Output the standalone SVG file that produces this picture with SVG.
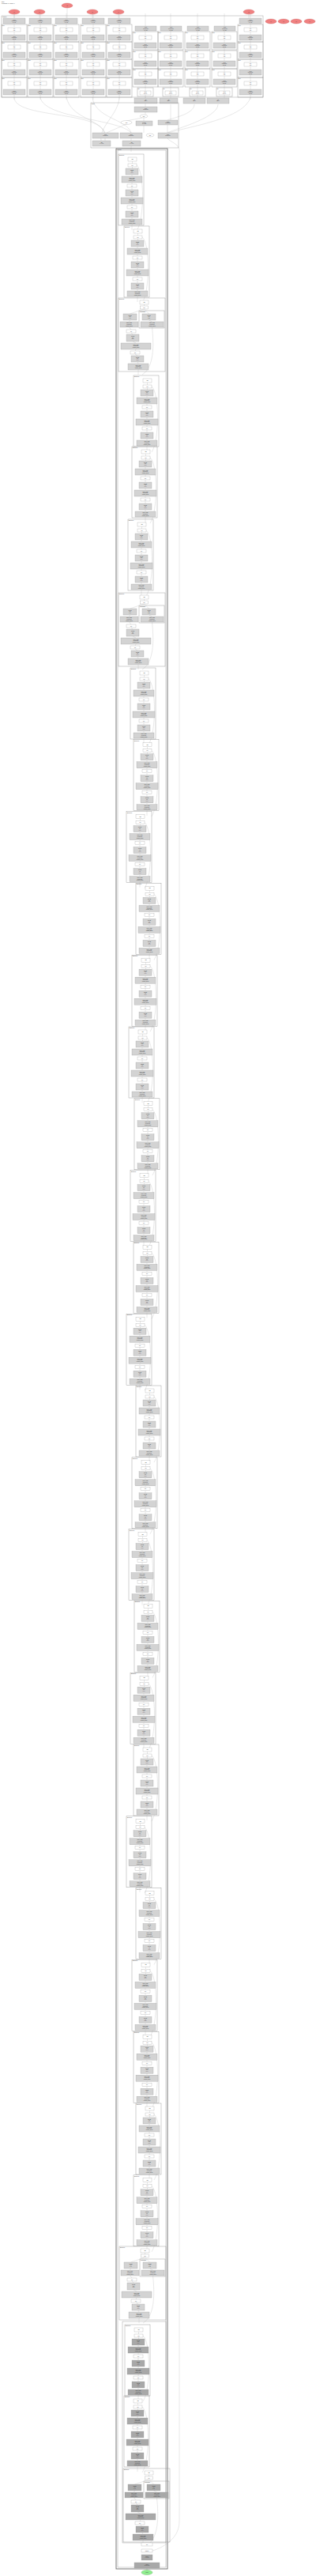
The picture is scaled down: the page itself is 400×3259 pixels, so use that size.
<svg xmlns="http://www.w3.org/2000/svg" xmlns:xlink="http://www.w3.org/1999/xlink" width="400" height="3259" viewBox="0 0 400 3259">
<style>
.cl{fill:none;stroke:#8a8a8a;stroke-width:0.4}
.cL{fill:none;stroke:#6a6a6a;stroke-width:0.9}
.w{fill:#fff;stroke:#9a9a9a;stroke-width:0.3}
.g{fill:var(--g,#d3d3d3);stroke:#9a9a9a;stroke-width:0.3}
.e{fill:none;stroke:#b0b0b0;stroke-width:0.3}
.t{font-family:"Liberation Sans",sans-serif;font-size:1.3px;fill:#333;text-anchor:middle}
.tl{font-family:"Liberation Sans",sans-serif;font-size:1.3px;fill:#333}
.in{fill:#f08080;stroke:#c05050;stroke-width:0.3}
.out{fill:#90ee90;stroke:#50a050;stroke-width:0.3}
</style>
<defs>
<g id="b">
<rect class="cl" width="32" height="90"/>
<text class="tl" x="1" y="2">Bottleneck</text>
<path class="e" d="M17.5,9V12M17.5,16V18M17,26V28M17,36V38M17,42V45M17,53V55M17,63V65M17,69V72M17,80V82M17,89V96"/>
<path class="e" d="M23,14C33,22 33,82 23,97"/>
<rect class="w" x="12" y="4" width="11" height="5"/><text class="t" x="17.5" y="7">add</text>
<rect class="w" x="12" y="12" width="11" height="4"/><text class="t" x="17.5" y="14.5">relu</text>
<rect class="g" x="9" y="18" width="16" height="8"/><text class="t" x="17" y="20.5">conv2d</text><text class="t" x="17" y="22.3">3x3</text><text class="t" x="17" y="24.1">(1, 1)</text>
<rect class="g" x="4" y="28" width="26" height="8"/><text class="t" x="17" y="30.5">batch_norm</text><text class="t" x="17" y="32.3">weight bias</text><text class="t" x="17" y="34.1">running_mean</text>
<rect class="w" x="11" y="38" width="12" height="4"/><text class="t" x="17" y="40.5">relu</text>
<rect class="g" x="9" y="45" width="16" height="8"/><text class="t" x="17" y="47.5">conv2d</text><text class="t" x="17" y="49.3">3x3</text><text class="t" x="17" y="51.1">(1, 1)</text>
<rect class="g" x="3" y="55" width="28" height="8"/><text class="t" x="17" y="57.5">batch_norm</text><text class="t" x="17" y="59.3">weight bias</text><text class="t" x="17" y="61.1">running_mean</text>
<rect class="w" x="11" y="65" width="12" height="4"/><text class="t" x="17" y="67.5">relu</text>
<rect class="g" x="9" y="72" width="16" height="8"/><text class="t" x="17" y="74.5">conv2d</text><text class="t" x="17" y="76.3">1x1</text><text class="t" x="17" y="78.1">(1, 1)</text>
<rect class="g" x="4" y="82" width="26" height="7"/><text class="t" x="17" y="84.3">batch_norm</text><text class="t" x="17" y="86.1">weight bias</text><text class="t" x="17" y="87.9">running_mean</text>
</g>
<g id="d">
<rect class="cl" width="59" height="93"/>
<text class="tl" x="1" y="2">Bottleneck</text>
<rect class="cl" x="26" y="16" width="32" height="22"/>
<text class="tl" x="27" y="18">downsample</text>
<path class="e" d="M32.5,8V10M32.5,14L14.5,20M32.5,14L38.5,20M14.5,28L13.5,30M38.5,28L42.5,30M13.5,37L16,40M16,44L18,46M18,55L22,57M22,65L21,67M21,71L24,73M24,81L25,83M25,91V97"/>
<path class="e" d="M42.5,37C45,60 45,88 30,97"/>
<rect class="w" x="27" y="3" width="11" height="5"/><text class="t" x="32.5" y="6">add</text>
<rect class="w" x="27.5" y="10" width="10" height="4"/><text class="t" x="32.5" y="12.5">relu</text>
<rect class="g" x="6" y="20" width="17" height="8"/><text class="t" x="14.5" y="22.5">conv2d</text><text class="t" x="14.5" y="24.3">1x1</text><text class="t" x="14.5" y="26.1">(1, 1)</text>
<rect class="g" x="30" y="20" width="17" height="8"/><text class="t" x="38.5" y="22.5">conv2d</text><text class="t" x="38.5" y="24.3">1x1</text><text class="t" x="38.5" y="26.1">(2, 2)</text>
<rect class="g" x="2" y="30" width="23" height="7"/><text class="t" x="13.5" y="32.3">batch_norm</text><text class="t" x="13.5" y="34.1">weight bias</text><text class="t" x="13.5" y="35.9">running_mean</text>
<rect class="g" x="28" y="30" width="29" height="7"/><text class="t" x="42.5" y="32.3">batch_norm</text><text class="t" x="42.5" y="34.1">weight bias</text><text class="t" x="42.5" y="35.9">running_mean</text>
<rect class="w" x="10" y="40" width="12" height="4"/><text class="t" x="16" y="42.5">relu</text>
<rect class="g" x="10" y="46" width="16" height="9"/><text class="t" x="18" y="48.7">conv2d</text><text class="t" x="18" y="50.5">3x3</text><text class="t" x="18" y="52.3">(2, 2)</text>
<rect class="g" x="3" y="57" width="38" height="8"/><text class="t" x="22" y="59.5">batch_norm</text><text class="t" x="22" y="61.3">weight bias</text><text class="t" x="22" y="63.1">running_mean</text>
<rect class="w" x="15" y="67" width="12" height="4"/><text class="t" x="21" y="69.5">relu</text>
<rect class="g" x="16" y="73" width="16" height="8"/><text class="t" x="24" y="75.5">conv2d</text><text class="t" x="24" y="77.3">1x1</text><text class="t" x="24" y="79.1">(1, 1)</text>
<rect class="g" x="12" y="83" width="26" height="8"/><text class="t" x="25" y="85.5">batch_norm</text><text class="t" x="25" y="87.3">weight bias</text><text class="t" x="25" y="89.1">running_mean</text>
</g>
<g id="c">
<path class="e" d="M16,-3V106"/>
<rect class="g" x="2" y="3" width="28" height="7"/><text class="t" x="16" y="5.5">linear</text><text class="t" x="16" y="7.2">weight bias</text><text class="t" x="16" y="8.9">(64, 32)</text>
<rect class="cl" x="0" y="11" width="32" height="22"/><text class="tl" x="0.5" y="12.8">block</text>
<rect class="w" x="8" y="15" width="16" height="5"/><text class="t" x="16" y="17.3">relu</text><text class="t" x="16" y="19">(32)</text>
<rect class="g" x="2" y="24" width="28" height="7"/><text class="t" x="16" y="26.5">linear</text><text class="t" x="16" y="28.2">weight bias</text><text class="t" x="16" y="29.9">(32, 32)</text>
<rect class="cl" x="0" y="33" width="32" height="22"/><text class="tl" x="0.5" y="34.8">block</text>
<rect class="w" x="8" y="37" width="16" height="5"/><text class="t" x="16" y="39.3">relu</text><text class="t" x="16" y="41">(32)</text>
<rect class="g" x="2" y="46" width="28" height="7"/><text class="t" x="16" y="48.5">linear</text><text class="t" x="16" y="50.2">weight bias</text><text class="t" x="16" y="51.9">(32, 32)</text>
<rect class="cl" x="0" y="55" width="32" height="23"/><text class="tl" x="0.5" y="56.8">block</text>
<rect class="w" x="8" y="59" width="16" height="5"/><text class="t" x="16" y="61.3">relu</text><text class="t" x="16" y="63">(32)</text>
<rect class="g" x="2" y="68" width="28" height="7"/><text class="t" x="16" y="70.5">linear</text><text class="t" x="16" y="72.2">weight bias</text><text class="t" x="16" y="73.9">(32, 32)</text>
<rect class="cl" x="0" y="78" width="32" height="25"/><text class="tl" x="0.5" y="79.8">block</text>
<rect class="w" x="8" y="83" width="16" height="5"/><text class="t" x="16" y="85.3">relu</text><text class="t" x="16" y="87">(32)</text>
<rect class="g" x="2" y="93" width="28" height="7"/><text class="t" x="16" y="95.5">linear</text><text class="t" x="16" y="97.2">weight bias</text><text class="t" x="16" y="98.9">(32, 32)</text>
</g>
<g id="c2">
<path class="e" d="M16,-3V104"/>
<rect class="g" x="3" y="13" width="27" height="6"/><text class="t" x="16.5" y="15.3">linear</text><text class="t" x="16.5" y="17">weight bias</text><text class="t" x="16.5" y="18.7">(64, 32)</text>
<rect class="cl" x="0" y="20" width="32" height="23"/><text class="tl" x="0.5" y="21.8">block</text>
<rect class="w" x="8" y="25" width="16" height="5"/><text class="t" x="16" y="27.3">relu</text><text class="t" x="16" y="29">(32)</text>
<rect class="g" x="2" y="34" width="28" height="7"/><text class="t" x="16" y="36.5">linear</text><text class="t" x="16" y="38.2">weight bias</text><text class="t" x="16" y="39.9">(32, 32)</text>
<rect class="cl" x="0" y="44" width="32" height="23"/><text class="tl" x="0.5" y="45.8">block</text>
<rect class="w" x="8" y="48" width="16" height="5"/><text class="t" x="16" y="50.3">relu</text><text class="t" x="16" y="52">(32)</text>
<rect class="g" x="2" y="57" width="28" height="7"/><text class="t" x="16" y="59.5">linear</text><text class="t" x="16" y="61.2">weight bias</text><text class="t" x="16" y="62.9">(32, 32)</text>
<rect class="cl" x="0" y="67" width="32" height="23"/><text class="tl" x="0.5" y="68.8">block</text>
<rect class="w" x="8" y="71" width="16" height="5"/><text class="t" x="16" y="73.3">relu</text><text class="t" x="16" y="75">(32)</text>
<rect class="g" x="2" y="80" width="28" height="7"/><text class="t" x="16" y="82.5">linear</text><text class="t" x="16" y="84.2">weight bias</text><text class="t" x="16" y="85.9">(32, 32)</text>
<rect class="cl" x="6" y="91" width="20" height="11"/><text class="tl" x="6.5" y="92.8">out</text>
<rect class="w" x="9" y="95" width="14" height="5"/><text class="t" x="16" y="97.3">linear</text><text class="t" x="16" y="99">(32, 16)</text>
</g>
</defs>

<text class="tl" x="2" y="2.5">model</text>
<text class="tl" x="2" y="4.5">Graph(inputs=10, outputs=1)</text>

<g id="connectors">
<path class="e" d="M18,18V23M50,18V23M85,10V23M117,18V23M150,18V23M315,18V23"/>
<path class="e" d="M18,123C18,150 125,140 132,168"/>
<path class="e" d="M51,123C55,150 150,150 166,168"/>
<path class="e" d="M84,123C90,150 125,150 133,168"/>
<path class="e" d="M117,123C120,150 160,150 166,168"/>
<path class="e" d="M151,123C150,145 125,160 128,178"/>
<path class="e" d="M317,123C310,150 240,160 213,168"/>
<path class="e" d="M184,122V135M184,142V145M180,149L160,153M182,149V153M216,132V152M246,132C246,145 215,150 212,152M276,132C276,150 215,165 212,168M212,158V168M160,157L135,168M182,159V168M133,175V178M166,175V178M212,175C215,180 230,182 227,195"/>
<path class="e" d="M166,185V192"/>
<path class="e" d="M227,195V3190C227,3215 200,3225 193,3227"/>
<path class="e" d="M186,3249V3252"/>
</g>

<g id="inputs">
<ellipse class="in" cx="18" cy="15" rx="7" ry="3"/><text class="t" x="18" y="15.5">x0</text>
<ellipse class="in" cx="50" cy="15" rx="7" ry="3"/><text class="t" x="50" y="15.5">x1</text>
<ellipse class="in" cx="85" cy="7" rx="7" ry="3"/><text class="t" x="85" y="7.5">x2</text>
<ellipse class="in" cx="117" cy="15" rx="7" ry="3"/><text class="t" x="117" y="15.5">x3</text>
<ellipse class="in" cx="150" cy="15" rx="7" ry="3"/><text class="t" x="150" y="15.5">x4</text>
<ellipse class="in" cx="315" cy="15" rx="7" ry="3"/><text class="t" x="315" y="15.5">x5</text>
<ellipse class="in" cx="343" cy="27" rx="7" ry="3"/><text class="t" x="343" y="27.5">x6</text>
<ellipse class="in" cx="359" cy="27" rx="7" ry="3"/><text class="t" x="359" y="27.5">x7</text>
<ellipse class="in" cx="375" cy="27" rx="7" ry="3"/><text class="t" x="375" y="27.5">x8</text>
<ellipse class="in" cx="392" cy="27" rx="7" ry="3"/><text class="t" x="392" y="27.5">x9</text>
</g>

<g id="encoders">
<rect class="cl" x="2" y="20" width="331" height="103"/>
<text class="tl" x="3" y="22">encoders</text>
<use id="col1" xlink:href="#c" x="2" y="20"/>
<use id="col2" xlink:href="#c" x="35" y="20"/>
<use id="col3" xlink:href="#c" x="68" y="20"/>
<use id="col4" xlink:href="#c" x="102" y="20"/>
<use id="col5" xlink:href="#c" x="135" y="20"/>
<use id="col6" xlink:href="#c2" x="168" y="20"/>
<use id="col7" xlink:href="#c2" x="200" y="20"/>
<use id="col8" xlink:href="#c2" x="234" y="20"/>
<use id="col9" xlink:href="#c2" x="268" y="20"/>
<use id="col10" xlink:href="#c" x="301" y="20"/>
</g>

<g id="merge">
<rect class="g" x="170" y="124" width="29" height="7"/><text class="t" x="184.5" y="126.5">cat</text><text class="t" x="184.5" y="128.2">dim=1</text>
<rect class="g" x="202" y="124" width="23" height="7"/><text class="t" x="213.5" y="126.5">cat</text><text class="t" x="213.5" y="128.2">dim=1</text>
<rect class="g" x="232" y="124" width="28" height="7"/><text class="t" x="246" y="126.5">cat</text><text class="t" x="246" y="128.2">dim=1</text>
<rect class="g" x="262" y="124" width="28" height="7"/><text class="t" x="276" y="126.5">cat</text><text class="t" x="276" y="128.2">dim=1</text>
<rect class="cl" x="115" y="130" width="111" height="57"/>
<text class="tl" x="116" y="132">fusion</text>
<rect class="g" x="170" y="135" width="29" height="7"/><text class="t" x="184.5" y="137.5">linear</text><text class="t" x="184.5" y="139.2">weight bias</text>
<ellipse class="w" cx="182" cy="147" rx="5" ry="2"/><text class="t" x="182" y="147.5">split</text>
<ellipse class="w" cx="160" cy="155" rx="7" ry="2.5"/><text class="t" x="160" y="155.5">view</text>
<rect class="g" x="172" y="153" width="21" height="6"/><text class="t" x="182.5" y="155.5">reshape</text><text class="t" x="182.5" y="157.2">(1, 3, 32)</text>
<rect class="g" x="200" y="152" width="25" height="6"/><text class="t" x="212.5" y="154.5">linear</text><text class="t" x="212.5" y="156.2">weight bias</text>
<rect class="g" x="117" y="168" width="33" height="7"/><text class="t" x="133.5" y="170.5">linear</text><text class="t" x="133.5" y="172.2">weight bias</text>
<rect class="g" x="152" y="168" width="28" height="7"/><text class="t" x="166" y="170.5">linear</text><text class="t" x="166" y="172.2">weight bias</text>
<ellipse class="w" cx="190" cy="171" rx="5" ry="2"/><text class="t" x="190" y="171.5">mul</text>
<rect class="g" x="200" y="168" width="25" height="7"/><text class="t" x="212.5" y="170.5">linear</text><text class="t" x="212.5" y="172.2">weight bias</text>
<rect class="g" x="117" y="178" width="23" height="7"/><text class="t" x="128.5" y="180.5">add</text><text class="t" x="128.5" y="182.2">(1, 3, 32)</text>
<rect class="g" x="155" y="178" width="23" height="7"/><text class="t" x="166.5" y="180.5">add</text><text class="t" x="166.5" y="182.2">(1, 3, 32)</text>
</g>

<g id="backbone">
<rect class="cL" x="147" y="188" width="65" height="3062"/>
<rect class="cl" x="149" y="190" width="61" height="3058"/>
<text class="tl" x="148" y="190">backbone</text>
<use id="l1b1" xlink:href="#b" x="150" y="195"/>
<use id="l1b2" xlink:href="#b" x="157" y="286"/>
<use id="l2b1" xlink:href="#d" x="150" y="377"/>
<use id="l2b2" xlink:href="#b" x="169" y="475"/>
<use id="l2b3" xlink:href="#b" x="167" y="565"/>
<use id="l2b4" xlink:href="#b" x="162" y="657"/>
<use id="l3b1" xlink:href="#d" x="150" y="750"/>
<use id="l3b2" xlink:href="#b" x="165" y="845"/>
<use id="l3b3" xlink:href="#b" x="169" y="935.8"/>
<use id="l3b4" xlink:href="#b" x="160" y="1026.6"/>
<use id="l3b5" xlink:href="#b" x="172" y="1117.4"/>
<use id="l3b6" xlink:href="#b" x="167" y="1208.2"/>
<use id="l3b7" xlink:href="#b" x="163" y="1299"/>
<use id="l3b8" xlink:href="#b" x="170" y="1389.8"/>
<use id="l3b9" xlink:href="#b" x="165" y="1480.6"/>
<use id="l3b10" xlink:href="#b" x="169" y="1571.4"/>
<use id="l3b11" xlink:href="#b" x="160" y="1662.2"/>
<use id="l3b12" xlink:href="#b" x="172" y="1753"/>
<use id="l3b13" xlink:href="#b" x="167" y="1843.8"/>
<use id="l3b14" xlink:href="#b" x="163" y="1934.6"/>
<use id="l3b15" xlink:href="#b" x="170" y="2025.4"/>
<use id="l3b16" xlink:href="#b" x="165" y="2116.2"/>
<use id="l3b17" xlink:href="#b" x="169" y="2207"/>
<use id="l3b18" xlink:href="#b" x="160" y="2297.8"/>
<use id="l3b19" xlink:href="#b" x="172" y="2388.6"/>
<use id="l3b20" xlink:href="#b" x="167" y="2479.4"/>
<use id="l3b21" xlink:href="#b" x="169" y="2570.2"/>
<use id="l3b22" xlink:href="#b" x="172" y="2661"/>
<use id="l3b23" xlink:href="#b" x="169" y="2751.8"/>
<use id="l4b1" xlink:href="#d" x="151" y="2842"/>
<rect class="cl" x="155" y="2937" width="55" height="280"/>
<use id="l4b2" xlink:href="#b" x="158" y="2941" style="--g:#a8a8a8"/>
<use id="l4b3" xlink:href="#b" x="157" y="3031" style="--g:#a8a8a8"/>
<use id="l4b4" xlink:href="#d" x="156" y="3123" style="--g:#a8a8a8"/>
</g>

<g id="head">
<rect class="w" x="179" y="3217" width="14" height="4"/><text class="t" x="186" y="3219.5">relu</text>
<rect class="w" x="179" y="3225" width="14" height="4"/><text class="t" x="186" y="3227.5">avgpool</text>
<rect class="g" x="179" y="3232" width="14" height="7" style="--g:#a8a8a8"/><text class="t" x="186" y="3234.5">flatten</text><text class="t" x="186" y="3236.2">(1, 2048)</text>
<rect class="g" x="170" y="3242" width="32" height="7" style="--g:#a8a8a8"/><text class="t" x="186" y="3244.5">linear</text><text class="t" x="186" y="3246.2">weight bias</text>
</g>
<g id="output">
<ellipse class="out" cx="186" cy="3254.5" rx="7" ry="3"/><text class="t" x="186" y="3255">output</text>
</g>
</svg>
